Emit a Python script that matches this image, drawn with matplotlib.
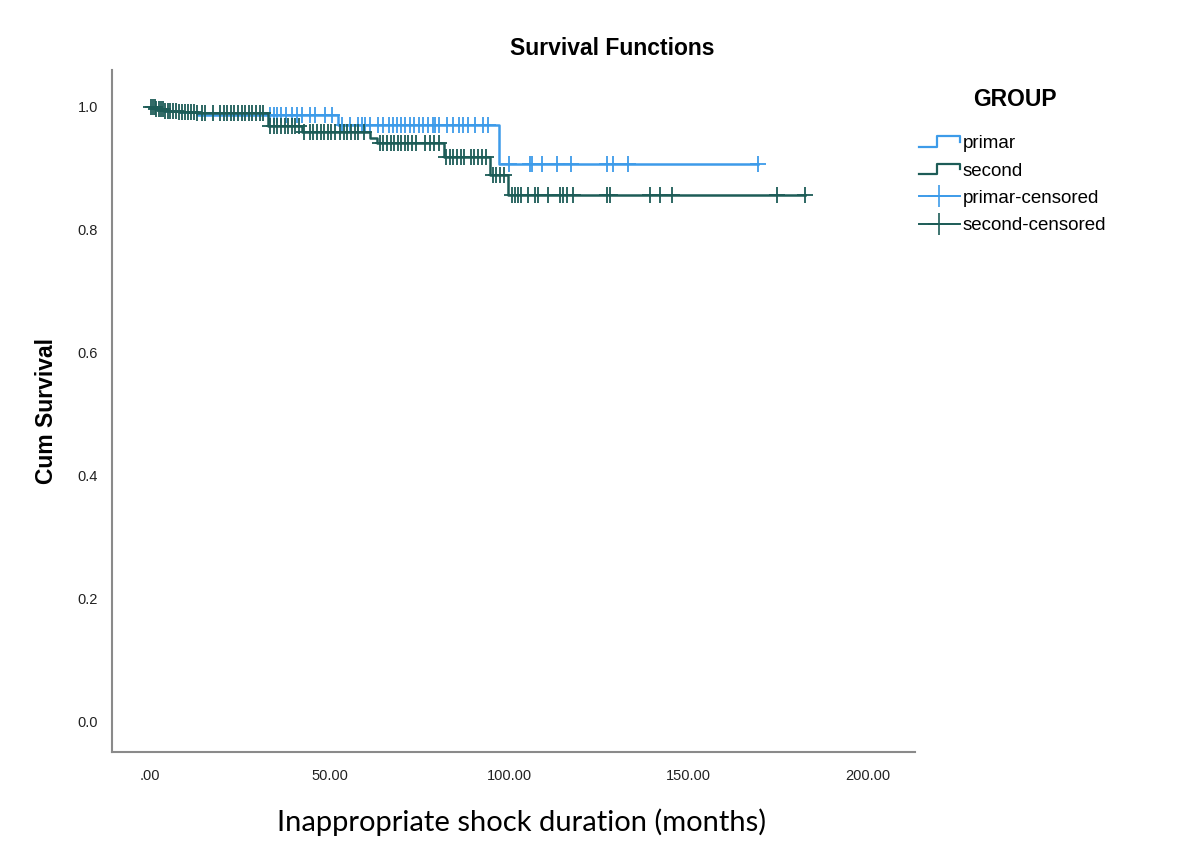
import numpy as np
import matplotlib
matplotlib.use("Agg")
import matplotlib.pyplot as plt
from matplotlib.lines import Line2D
from matplotlib.legend_handler import HandlerBase

# Kaplan-Meier steps (time in months, cumulative survival)
primar_times = [0, 1.5, 4, 8, 13, 52.5, 97.2]
primar_surv = [1.0, 0.997, 0.994, 0.992, 0.987, 0.971, 0.907]
primar_censored = [33.4, 34.5, 35.5, 36.5, 38, 39.5, 41, 42.3, 44.6, 46, 48.7, 50.7,
                   53.5, 55.7, 58, 59, 60, 61.3, 63.5, 65, 66.5, 67.7, 68.8, 70, 71,
                   72.5, 73.5, 75, 76, 77.5, 78.8, 79.4, 80.5, 82.7, 84.4, 86, 87.2,
                   88.6, 90.5, 92.8, 94.2,
                   100, 105.8, 106.4, 109.2, 113.4, 117.3, 127.3, 129, 133.1, 169.5]

second_times = [0, 1.5, 4, 8, 13, 32.8, 42.2, 61.2, 63.2, 81.8, 94.8, 99.8]
second_surv = [1.0, 0.997, 0.994, 0.992, 0.990, 0.969, 0.959, 0.949, 0.941, 0.919, 0.889, 0.857]
second_censored = [0.3, 0.8, 1.3, 1.8, 2.5, 3.0, 3.6, 4.2, 5.0, 5.7, 6.4, 7.2, 8.0, 9.0,
                   9.8, 10.6, 11.5, 12.3, 13.2, 14.5, 15.4, 17.5, 19.5, 20.5, 21.5, 22.5,
                   23.5, 24.5, 25.5, 26.5, 27.5, 28.5, 29.5, 30.5, 31.5,
                   33.5, 34.5, 35.5, 36.5, 37.5, 38.5, 39.5, 40.5, 41.5,
                   43, 44.5, 45.5, 46.5, 47.5, 48.5, 49.5, 50.5, 51.5, 53, 54, 55, 56,
                   57, 58, 59.5,
                   64, 65, 66, 67, 68, 69, 70, 71, 72, 73, 74, 76.5, 78, 79, 80.5,
                   82.5, 83.5, 84.5, 85.5, 86.5, 87.5, 89.5, 90.2, 91.5, 92.5, 93.5,
                   95.5, 96.5, 97.5, 98.5,
                   100.8, 101.7, 102.5, 103.3, 105.3, 107.2, 108.1, 110.9, 114.2, 115,
                   116.2, 117.8, 127.3, 128.1, 139.3, 142.1, 145.4, 174.7, 182.5]

x_ticks = [0, 50, 100, 150, 200]
x_tick_labels = [".00", "50.00", "100.00", "150.00", "200.00"]
y_ticks = [0.0, 0.2, 0.4, 0.6, 0.8, 1.0]

c_primar = "#3d9be9"
c_second = "#1d5c57"
sans = ["Liberation Sans", "DejaVu Sans"]


class StepHandler(HandlerBase):
    # small step icon for the survival curves in the legend
    def create_artists(self, legend, orig_handle, xdescent, ydescent,
                       width, height, fontsize, trans):
        xs = np.array([0, 0.45, 0.45, 1.0, 1.0]) * width - xdescent
        ys = np.array([0.1, 0.1, 0.9, 0.9, 0.5]) * height - ydescent
        line = Line2D(xs, ys, color=orig_handle.get_color(),
                      lw=orig_handle.get_linewidth())
        line.set_transform(trans)
        return [line]


def survival_at(times, surv, t):
    idx = np.searchsorted(times, t, side="right") - 1
    return np.asarray(surv)[idx]


def draw_group(ax, times, surv, censored, color):
    end = max(censored)
    xs = list(times) + [end]
    ys = list(surv) + [surv[-1]]
    ax.plot(xs, ys, drawstyle="steps-post", color=color, lw=1.8)
    cy = survival_at(times, surv, censored)
    ax.plot(censored, cy, linestyle="none", marker="+", ms=11, mew=1.3, color=color)


fig = plt.figure(figsize=(12, 8.59), dpi=100)
ax = fig.add_axes([0.0933, 0.1246, 0.6692, 0.7939])

draw_group(ax, primar_times, primar_surv, primar_censored, c_primar)
draw_group(ax, second_times, second_surv, second_censored, c_second)

ax.set_xlim(-10.6, 213.1)
ax.set_ylim(-0.0488, 1.060)
ax.set_xticks(x_ticks)
ax.set_xticklabels(x_tick_labels, family=sans, fontsize=10.5, color="#222222")
ax.set_yticks(y_ticks)
ax.set_yticklabels([f"{v:.1f}" for v in y_ticks], family=sans, fontsize=10.5,
                   color="#222222")
ax.tick_params(length=0)
ax.tick_params(axis="x", pad=12)
ax.tick_params(axis="y", pad=10)

for side in ["top", "right"]:
    ax.spines[side].set_visible(False)
for side in ["left", "bottom"]:
    ax.spines[side].set_color("#8a8a8a")
    ax.spines[side].set_linewidth(1.5)

ax.set_ylabel("Cum Survival", family=sans, fontsize=16.5, fontweight="bold", labelpad=14)
fig.text(0.51, 0.944, "Survival Functions", family=sans, fontsize=16.5,
         fontweight="bold", ha="center", va="center")
fig.text(0.435, 0.043, "Inappropriate shock duration (months)", family="Lato",
         fontsize=21, ha="center", va="center")

# legend title drawn on its own so the gap above the entries can be set
fig.text(0.846, 0.8836, "GROUP", family=sans, fontsize=16.5, fontweight="bold",
         ha="center", va="center")
handles = [Line2D([0], [0], color=c_primar, lw=1.6),
           Line2D([0], [0], color=c_second, lw=1.6),
           Line2D([0], [0], color=c_primar, lw=1.4, marker="+", ms=16, mew=1.2),
           Line2D([0], [0], color=c_second, lw=1.4, marker="+", ms=16, mew=1.2)]
labels = ["primar", "second", "primar-censored", "second-censored"]
fig.legend(handles, labels, loc="upper left", bbox_to_anchor=(0.764, 0.845),
           frameon=False, numpoints=1, borderaxespad=0, borderpad=0.1,
           handlelength=2.2, handletextpad=0.15, labelspacing=0.55,
           prop={"family": sans, "size": 13.5},
           handler_map={handles[0]: StepHandler(), handles[1]: StepHandler()})

fig.savefig("out.png", dpi=100)
